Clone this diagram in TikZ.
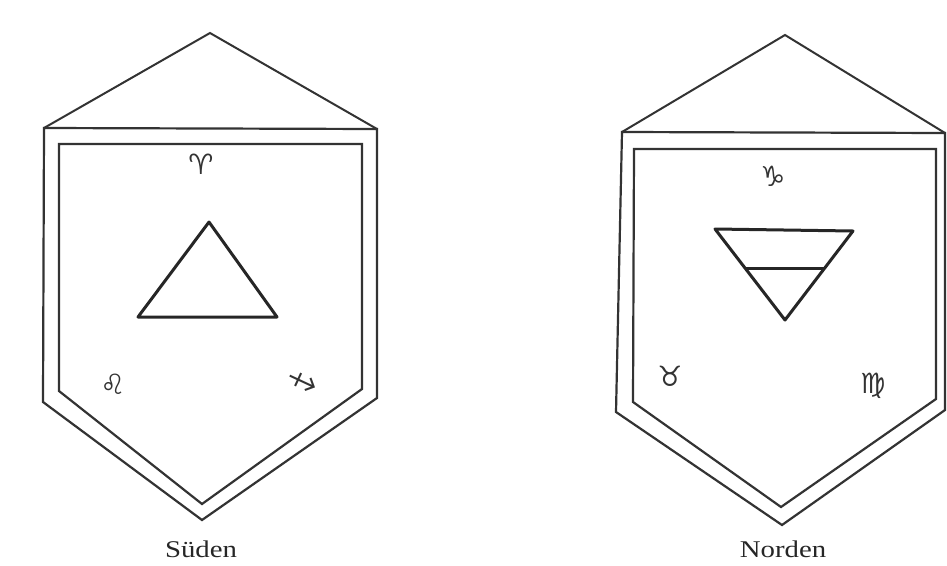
\documentclass[tikz,border=0pt]{standalone}
\usepackage{fontspec}
\setmainfont{Liberation Serif}
\newfontfamily\symfont{DejaVu Sans}
\tikzset{
  frame/.style={draw=black!80, line width=2.2pt, line join=miter},
  roof/.style={draw=black!80, line width=2pt},
  elem/.style={draw=black!85, line width=3pt, line join=round},
  sign/.style={text=black!80, font=\symfont\fontsize{28}{28}\selectfont, inner sep=0pt},
  caption/.style={text=black!85, font=\fontsize{24}{24}\selectfont, xscale=1.2, inner sep=0pt}
}
\begin{document}
\begin{tikzpicture}[x=1pt,y=-1pt]
\useasboundingbox (0,0) rectangle (947,565);
% ---------- left banner (Süden) ----------
\coordinate (LA) at (210,33);
\coordinate (LL) at (44,128);
\coordinate (LR) at (377,129);
\draw[roof] (LL) -- (LA) -- (LR);
\draw[frame] (LL) -- (LR) -- (377,398) -- (202,520) -- (43,402) -- cycle;
\draw[frame] (59,144) -- (362,144) -- (362,389) -- (202,504) -- (59,391) -- cycle;
\coordinate (F1) at (209,222);
\coordinate (F2) at (138,317);
\coordinate (F3) at (277,317);
\draw[elem] (F1) -- (F3) -- (F2) -- cycle;
\node[sign] (aries) at (201,164) {♈};
\node[sign] (leo) at (113,384) {♌};
\node[sign, rotate=-70] (sag) at (302,382) {♐};
\node[caption] (sued) at (201,549) {Süden};
% ---------- right banner (Norden) ----------
\coordinate (RA) at (785,35);
\coordinate (RL) at (622,132);
\coordinate (RR) at (945,133);
\draw[roof] (RL) -- (RA) -- (RR);
\draw[frame] (RL) -- (RR) -- (945,410) -- (782,525) -- (616,412) -- cycle;
\draw[frame] (634,149) -- (936,149) -- (936,399) -- (781,507) -- (633,402) -- cycle;
\coordinate (E1) at (715,229);
\coordinate (E2) at (853,231);
\coordinate (E3) at (785,320);
\draw[elem] (E1) -- (E2) -- (E3) -- cycle;
\draw[elem] (745,268) -- (825,268);
\node[sign] (capr) at (773,176) {♑};
\node[sign] (taurus) at (670,376) {♉};
\node[sign] (virgo) at (873,386) {♍};
\node[caption] (nord) at (783,549) {Norden};
\end{tikzpicture}
\end{document}
